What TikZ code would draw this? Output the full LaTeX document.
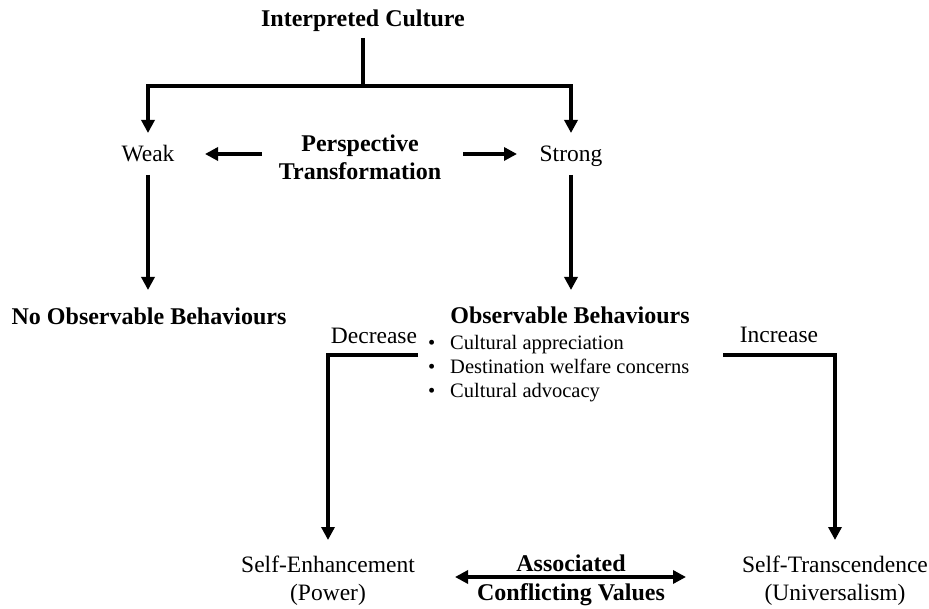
\documentclass[tikz,border=0pt]{standalone}
\usepackage{fontspec}
\setmainfont{Liberation Serif}
\usetikzlibrary{arrows.meta}
\begin{document}
\begin{tikzpicture}[x=1pt,y=-1pt,
  txt/.style={anchor=base,inner sep=0pt,font=\fontsize{23.5}{27}\selectfont},
  ltxt/.style={anchor=base west,inner sep=0pt,font=\fontsize{20.5}{24}\selectfont},
  btxt/.style={anchor=base,inner sep=0pt,font=\fontsize{24}{28}\selectfont\bfseries},
  conn/.style={line width=3.8pt,line join=miter},
  arr/.style={conn,-{Triangle[length=13pt,width=13pt]}},
  darr/.style={conn,{Triangle[length=13pt,width=13pt]}-{Triangle[length=13pt,width=13pt]}}]
\useasboundingbox (0,0) rectangle (929,609);
% texts
\node[btxt] (ic) at (363,27) {Interpreted Culture};
\node[txt] (weak) at (148,162) {Weak};
\node[txt] (strong) at (571,162) {Strong};
\node[btxt] (pt1) at (360,152) {Perspective};
\node[btxt] (pt2) at (360,180) {Transformation};
\node[btxt] (nob) at (149,325) {No Observable Behaviours};
\node[btxt] (ob) at (570,324) {Observable Behaviours};
\node[txt] (dec) at (374,344) {Decrease};
\node[txt] (inc) at (779,343) {Increase};
\node[ltxt] (bl1) at (428,350) {\textbullet};
\node[ltxt] (bl2) at (428,374) {\textbullet};
\node[ltxt] (bl3) at (428,398) {\textbullet};
\node[ltxt] (b1) at (450,350) {Cultural appreciation};
\node[ltxt] (b2) at (450,374) {Destination welfare concerns};
\node[ltxt] (b3) at (450,398) {Cultural advocacy};
\node[txt] (se1) at (328,572) {Self-Enhancement};
\node[txt] (se2) at (328,600) {(Power)};
\node[btxt] (acv1) at (571,571) {Associated};
\node[btxt] (acv2) at (571,600) {Conflicting Values};
\node[txt] (st1) at (835,572) {Self-Transcendence};
\node[txt] (st2) at (835,600) {(Universalism)};
% connector end points
\coordinate (icb) at (363,38);
\coordinate (jn) at (363,86);
\coordinate (wt) at (148,133);
\coordinate (stt) at (571,133);
\coordinate (wb) at (148,175);
\coordinate (nobt) at (148,290);
\coordinate (sb) at (571,175);
\coordinate (obt) at (571,290);
\coordinate (ptl) at (262,154);
\coordinate (wr) at (205,154);
\coordinate (ptr) at (463,154);
\coordinate (sl) at (517,154);
\coordinate (decs) at (418,355);
\coordinate (set) at (328,540);
\coordinate (incs) at (723,355);
\coordinate (stt2) at (835,540);
\coordinate (al) at (455,577);
\coordinate (ar) at (686,577);
% connectors
\draw[conn] (icb) -- (jn);
\draw[arr] (jn) -| (wt);
\draw[arr] (jn) -| (stt);
\draw[arr] (wb) -- (nobt);
\draw[arr] (sb) -- (obt);
\draw[arr] (ptl) -- (wr);
\draw[arr] (ptr) -- (sl);
\draw[arr] (decs) -| (set);
\draw[arr] (incs) -| (stt2);
\draw[darr] (al) -- (ar);
\end{tikzpicture}
\end{document}
